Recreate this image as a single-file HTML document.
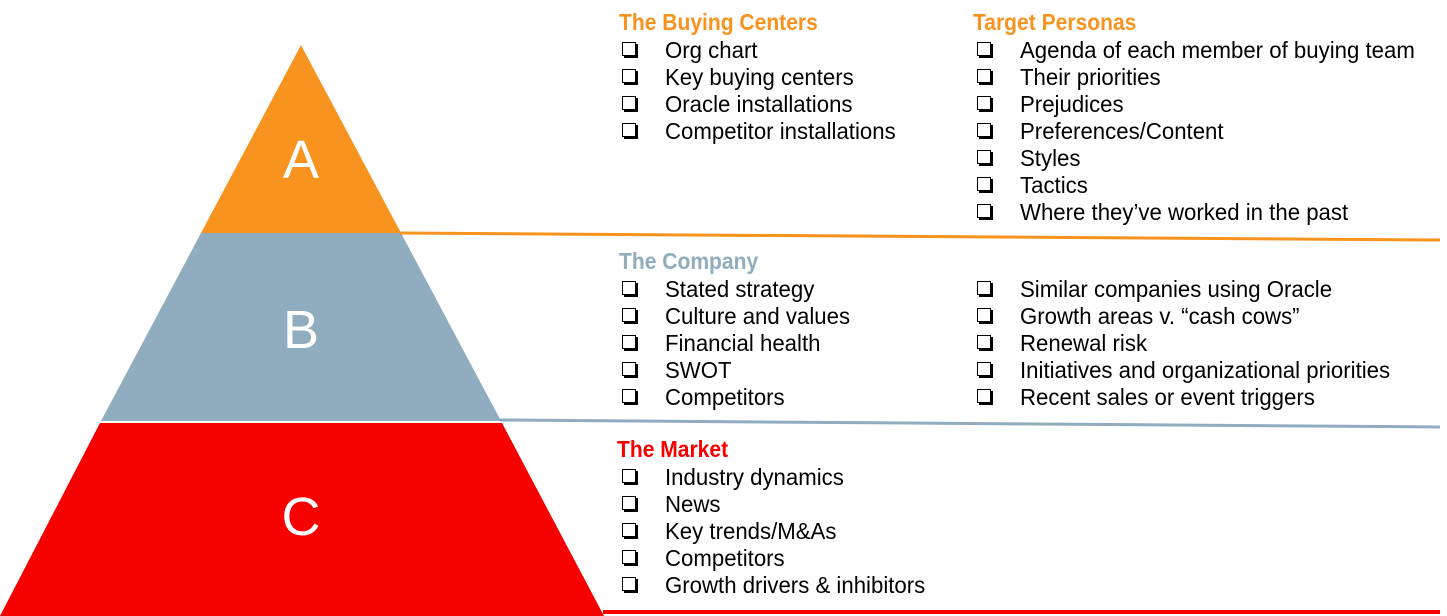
<!DOCTYPE html>
<html><head><meta charset="utf-8"><style>
body{margin:0;width:1447px;height:616px;background:#fff;position:relative;overflow:hidden;font-family:"Liberation Sans",sans-serif}
.h{position:absolute;font-weight:bold;font-size:23px;line-height:26px;transform:scaleX(0.915);transform-origin:left center;white-space:nowrap}
.r{position:absolute;font-size:23px;line-height:26px;transform:scaleX(0.965);transform-origin:left center;white-space:nowrap;color:#000}
.cb{position:absolute;width:12px;height:12px;border:1.5px solid #000;box-shadow:2px 2px 0 #000;background:#fff}
.L{position:absolute;color:#fff;font-size:54px;width:100px;text-align:center;line-height:60px}
</style></head><body>
<svg width="1447" height="616" style="position:absolute;left:0;top:0">
<polygon points="301,45 401,233 201,233" fill="#f7931e"/>
<polygon points="201,233 401,233 501,421 101,421" fill="#8fadbf"/>
<polygon points="100,423 502,423 604,616 0,616" fill="#f60000"/>
<line x1="400" y1="233" x2="1440" y2="240" stroke="#f7931e" stroke-width="3"/>
<line x1="500" y1="420" x2="1440" y2="427" stroke="#8fadbf" stroke-width="3"/>
<line x1="603" y1="612" x2="1440" y2="612" stroke="#f60000" stroke-width="4"/>
</svg>
<div class="L" style="left:251px;top:130px">A</div>
<div class="L" style="left:251px;top:300px">B</div>
<div class="L" style="left:251px;top:487px">C</div>
<div id="c"></div>
<script>
const c=document.getElementById('c');
function head(x,y,t,col){c.insertAdjacentHTML('beforeend',`<div class="h" style="left:${x}px;top:${y-13}px;color:${col}">${t}</div>`)}
function rows(bx,tx,y,arr){arr.forEach((t,i)=>{const yy=y+i*27;c.insertAdjacentHTML('beforeend',`<div class="cb" style="left:${bx}px;top:${yy-8}px"></div><div class="r" style="left:${tx}px;top:${yy-13}px">${t}</div>`)})}
head(619,22,'The Buying Centers','#f7931e');
rows(622,665,50,['Org chart','Key buying centers','Oracle installations','Competitor installations']);
head(973,22,'Target Personas','#f7931e');
rows(977,1020,50,['Agenda of each member of buying team','Their priorities','Prejudices','Preferences/Content','Styles','Tactics','Where they’ve worked in the past']);
head(619,261,'The Company','#8fadbf');
rows(622,665,289,['Stated strategy','Culture and values','Financial health','SWOT','Competitors']);
rows(977,1020,289,['Similar companies using Oracle','Growth areas v. “cash cows”','Renewal risk','Initiatives and organizational priorities','Recent sales or event triggers']);
head(617,449,'The Market','#f60000');
rows(622,665,477,['Industry dynamics','News','Key trends/M&amp;As','Competitors','Growth drivers &amp; inhibitors']);
</script>
</body></html>
